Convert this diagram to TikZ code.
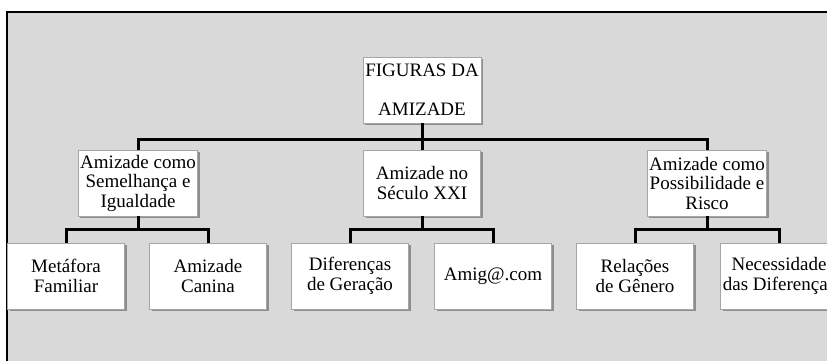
\documentclass[tikz,border=0pt]{standalone}
\usepackage{fontspec}
\setmainfont{Liberation Serif}
\usetikzlibrary{shadows,calc}

\definecolor{fundo}{HTML}{D9D9D9}
\definecolor{borda}{HTML}{A6A6A6}

\tikzset{
    caixa/.style={draw=borda, line width=0.8pt, fill=white,
        minimum width=117pt, minimum height=66pt, inner sep=2pt,
        align=center, font=\fontsize{19}{19.5}\selectfont,
        drop shadow={shadow xshift=2pt, shadow yshift=-2pt,
            fill=black, opacity=.35}},
    tronco/.style={line width=3pt, draw=black}
}

\begin{document}
\begin{tikzpicture}[x=1pt, y=-1pt]
    % The page is as large as the reference, everything else is clipped
    \useasboundingbox (0,0) rectangle (827,360);
    \fill[white] (0,0) rectangle (827,360);
    \clip (0,0) rectangle (827,360);
    % Grey panel with its black frame, running off the page
    \draw[line width=2.5pt, fill=fundo] (7,12) rectangle (860,390);

    % The root
    \node[caixa, minimum width=118pt] (root) at (422,90)
        {FIGURAS DA\\[0pt]\strut\\AMIZADE};

    % First level
    \node[caixa] (semelhanca) at (138,183) {Amizade como\\Semelhança e\\Igualdade};
    \node[caixa] (seculo) at (422,183) {Amizade no\\Século XXI};
    \node[caixa] (risco) at (707,183) {Amizade como\\Possibilidade e\\Risco};

    % Second level
    \node[caixa] (metafora) at (66,276) {Metáfora\\Familiar};
    \node[caixa] (canina) at (208,276) {Amizade\\Canina};
    \node[caixa] (geracao) at (350,276) {Diferenças\\de Geração};
    \node[caixa] (amigcom) at (493,276) {Amig@.com};
    \node[caixa] (genero) at (635,276) {Relações\\de Gênero};
    \node[caixa] (diferencas) at (779,276) {Necessidade\\das Diferenças};

    % Connectors of the root: one bar under it
    \coordinate (hubroot) at (422,139);
    \draw[tronco] (semelhanca.north) |- (hubroot) -| (risco.north);
    \draw[tronco] (root.south) -- (seculo.north);

    % Connectors of every parent to its two children
    \foreach \pai/\a/\b in {semelhanca/metafora/canina,
                            seculo/geracao/amigcom,
                            risco/genero/diferencas}
    {
        \coordinate (hub) at ($(\pai.south)!.5!(\pai.south |- \a.north)$);
        \draw[tronco] (\a.north) |- (hub) -| (\b.north);
        \draw[tronco] (\pai.south) -- (hub);
    }
\end{tikzpicture}
\end{document}
